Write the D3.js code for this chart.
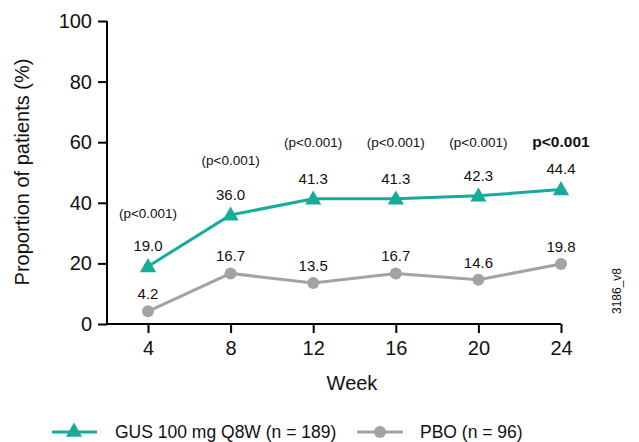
<!DOCTYPE html>
<html><head><meta charset="utf-8">
<script src="https://cdn.jsdelivr.net/npm/d3@7"></script>
<style>body{margin:0;background:#fff;}svg{display:block;font-family:"Liberation Sans",Arial,sans-serif;}</style>
</head><body>
<script>
const weeks = [4, 8, 12, 16, 20, 24];
const gusValues = [19.0, 36.0, 41.3, 41.3, 42.3, 44.4];
const pboValues = [4.2, 16.7, 13.5, 16.7, 14.6, 19.8];
const pLabels = ["(p<0.001)", "(p<0.001)", "(p<0.001)", "(p<0.001)", "(p<0.001)", "p<0.001"];
const yTicks = [0, 20, 40, 60, 80, 100];
const seriesNames = ["GUS 100 mg Q8W (n = 189)", "PBO (n = 96)"];

const W = 639, H = 442;
const teal = "#17ab9c", grey = "#a3a3a3";
const svg = d3.select("body").append("svg").attr("width", W).attr("height", H);

const x = d3.scaleLinear().domain([4, 24]).range([148, 561]);
const y = d3.scaleLinear().domain([0, 100]).range([324, 21]);
const x0 = 107;

// axes
const yAxis = svg.append("g").attr("transform", `translate(${x0},0)`)
  .call(d3.axisLeft(y).tickValues(yTicks).tickSize(9).tickPadding(6));
yAxis.select(".domain").attr("d", `M0,${y(100)}V${y(0)}`);
yAxis.selectAll("line").attr("stroke-width", 2);
yAxis.select(".domain").attr("stroke-width", 2);
yAxis.selectAll("text").attr("font-size", 20).attr("fill", "#111").attr("font-family", '"Liberation Sans",Arial,sans-serif');

const xAxis = svg.append("g").attr("transform", `translate(0,${y(0)})`)
  .call(d3.axisBottom(x).tickValues(weeks).tickSize(9).tickPadding(8).tickFormat(d3.format("d")));
xAxis.select(".domain").attr("d", `M${x0},0H${x(24)}`).attr("stroke-width", 2);
xAxis.selectAll("line").attr("stroke-width", 2);
xAxis.selectAll("text").attr("font-size", 20).attr("fill", "#111").attr("font-family", '"Liberation Sans",Arial,sans-serif');

svg.append("text").attr("x", 352).attr("y", 390).attr("text-anchor", "middle")
  .attr("font-size", 20).attr("fill", "#111").text("Week");
svg.append("text").attr("transform", "translate(29,172) rotate(-90)").attr("text-anchor", "middle")
  .attr("font-size", 20).attr("fill", "#111").text("Proportion of patients (%)");

// lines
const line = d3.line().x((d, i) => x(weeks[i])).y(d => y(d));
svg.append("path").datum(pboValues).attr("d", line).attr("fill", "none").attr("stroke", grey).attr("stroke-width", 3);
svg.append("path").datum(gusValues).attr("d", line).attr("fill", "none").attr("stroke", teal).attr("stroke-width", 3);

const tri = d3.symbol().type(d3.symbolTriangle).size(115);
svg.selectAll(".pbo").data(pboValues).enter().append("circle")
  .attr("cx", (d, i) => x(weeks[i])).attr("cy", d => y(d)).attr("r", 6).attr("fill", grey);
svg.selectAll(".gus").data(gusValues).enter().append("path")
  .attr("d", tri).attr("transform", (d, i) => `translate(${x(weeks[i])},${y(d) + 1})`).attr("fill", teal);

// value labels
svg.selectAll(".gl").data(gusValues).enter().append("text")
  .attr("x", (d, i) => x(weeks[i])).attr("y", d => y(d) - 15).attr("text-anchor", "middle")
  .attr("font-size", 15).attr("fill", "#111").text(d => d.toFixed(1));
svg.selectAll(".pl").data(pboValues).enter().append("text")
  .attr("x", (d, i) => x(weeks[i])).attr("y", d => y(d) - 12).attr("text-anchor", "middle")
  .attr("font-size", 15).attr("fill", "#111").text(d => d.toFixed(1));

// p labels
svg.selectAll(".pv").data(pLabels).enter().append("text")
  .attr("x", (d, i) => x(weeks[i]))
  .attr("y", (d, i) => i === 0 ? y(gusValues[0]) - 48 : i === 1 ? y(gusValues[1]) - 50 : 147)
  .attr("text-anchor", "middle")
  .attr("font-size", (d, i) => i === 5 ? 15.5 : 13.5)
  .attr("font-weight", (d, i) => i === 5 ? "bold" : "normal")
  .attr("fill", "#111").text(d => d);

// code label
svg.append("text").attr("transform", "translate(621,291) rotate(-90)").attr("text-anchor", "middle")
  .attr("font-size", 12).attr("fill", "#111").text("3186_v8");

// legend
const ly = 432;
svg.append("line").attr("x1", 52).attr("x2", 97).attr("y1", ly).attr("y2", ly).attr("stroke", teal).attr("stroke-width", 3);
svg.append("path").attr("d", tri).attr("transform", `translate(74,${ly})`).attr("fill", teal);
svg.append("text").attr("x", 115).attr("y", ly + 6).attr("font-size", 17.5).attr("fill", "#111").text(seriesNames[0]);
svg.append("line").attr("x1", 357).attr("x2", 403).attr("y1", ly).attr("y2", ly).attr("stroke", grey).attr("stroke-width", 3);
svg.append("circle").attr("cx", 380).attr("cy", ly).attr("r", 6).attr("fill", grey);
svg.append("text").attr("x", 420).attr("y", ly + 6).attr("font-size", 17.5).attr("fill", "#111").text(seriesNames[1]);
</script>
</body></html>
